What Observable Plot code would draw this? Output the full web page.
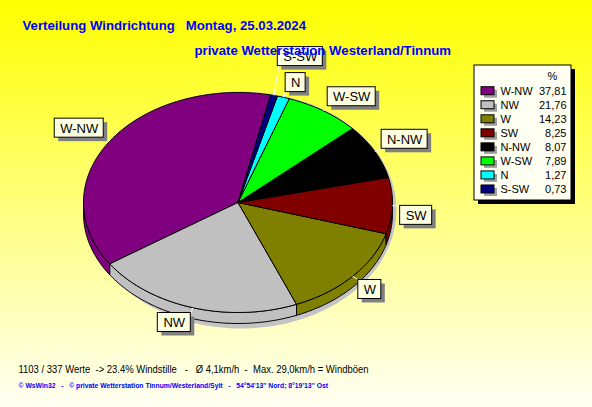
<!DOCTYPE html>
<html><head><meta charset="utf-8">
<script src="https://cdn.jsdelivr.net/npm/d3@7"></script>
<script src="https://cdn.jsdelivr.net/npm/@observablehq/plot@0.6"></script>
<style>
html,body{margin:0;padding:0;}
body{width:592px;height:407px;overflow:hidden;background:#ffff80;}
svg text{white-space:pre;}
</style></head><body>
<div id="chart"></div>
<script>
// ---- data ----
const directions = ["W-NW","NW","W","SW","N-NW","W-SW","N","S-SW"];
const percents = [37.81,21.76,14.23,8.25,8.07,7.89,1.27,0.73];
const percentLabels = ["37,81","21,76","14,23","8,25","8,07","7,89","1,27","0,73"];
const colors = ["#800080","#c0c0c0","#808000","#800000","#000000","#00ff00","#00ffff","#000080"];
const legendHeader = "%";
const titleText = "Verteilung Windrichtung   Montag, 25.03.2024";
const subtitleText = "private Wetterstation Westerland/Tinnum";
const statsText = "1103 / 337 Werte  -> 23.4% Windstille   -   Ø 4,1km/h  -  Max. 29,0km/h = Windböen";
const footerText = "© WsWin32   -   © private Wetterstation Tinnum/Westerland/Sylt   -   54°54'13'' Nord; 8°19'13'' Ost";

// ---- layout ----
const W = 592, H = 407;
const cx = 237.5, cy = 202, rx = 154.5, ry = 110, depth = 11;
const startDeg = 12.2;
const FONT = "Liberation Sans, Arial, sans-serif";
const rad = d => d * Math.PI / 180;
const P = (t, k = 1) => ({x: cx + k * rx * Math.sin(rad(t)), y: cy - k * ry * Math.cos(rad(t))});

const ctx = document.createElement("canvas").getContext("2d");
function measure(txt, font) { ctx.font = font; return ctx.measureText(txt).width; }

// slices
let cum = 0;
const slices = percents.map((p, i) => {
  const a0 = startDeg - cum * 3.6;
  cum += p;
  const a1 = startDeg - cum * 3.6;
  return {i, name: directions[i], color: colors[i], a0, a1};
});

const topPts = [];
for (const s of slices) {
  const span = s.a0 - s.a1;
  const n = Math.max(2, Math.ceil(span));
  topPts.push({id: s.i, color: s.color, x: cx, y: cy});
  for (let j = 0; j <= n; j++) { const q = P(s.a0 - span * j / n); topPts.push({id: s.i, color: s.color, ...q}); }
  topPts.push({id: s.i, color: s.color, x: cx, y: cy});
}

const sidePts = [];
for (const s of slices) {
  for (const k of [-1, 0]) {
    const lo = Math.max(s.a1, 90 + 360 * k), hi = Math.min(s.a0, 270 + 360 * k);
    if (hi <= lo) continue;
    const n = Math.max(2, Math.ceil(hi - lo));
    const id = s.i + "_" + k;
    const arc = [];
    for (let j = 0; j <= n; j++) arc.push(P(lo + (hi - lo) * j / n));
    arc.forEach(q => sidePts.push({id, color: s.color, x: q.x, y: q.y}));
    arc.slice().reverse().forEach(q => sidePts.push({id, color: s.color, x: q.x, y: q.y + depth}));
    sidePts.push({id, color: s.color, x: arc[0].x, y: arc[0].y});
  }
}

const shadowPts = d3.range(0, 361, 2).map(t => ({
  x: cx + 3 + (rx + 1) * Math.sin(rad(t)),
  y: cy + depth / 2 + 2 - (ry + depth / 2 + 3) * Math.cos(rad(t))
}));

// labels
const LFONT = "13px " + FONT;
const bh = 19;
const boxes = [];
for (const s of slices) {
  const mid = (s.a0 + s.a1) / 2;
  const E = P(mid, 1), A = P(mid, 1.05);
  const bw = Math.round(measure(s.name, LFONT) + 11);
  const right = Math.sin(rad(mid)) > 0, upper = Math.cos(rad(mid)) > 0;
  let x0 = right ? A.x : A.x - bw;
  let y0 = upper ? A.y - bh : A.y;
  let lx = A.x, ly = A.y;
  for (const b of boxes) {
    const ov = x0 < b.x0 + b.bw && x0 + bw > b.x0 && y0 < b.y0 + bh + 4 && y0 + bh > b.y0 - 4;
    if (ov) {
      if (upper) { y0 = b.y0 - 7 - bh; ly = y0 + bh; x0 += 2; lx = x0 + 1; }
      else { y0 = b.y0 + bh + 7; ly = y0; }
    }
  }
  boxes.push({name: s.name, x0, y0, bw, ex: E.x, ey: E.y, lx, ly});
}

// legend
const legX0 = 474, legY0 = 65, legX1 = 571, legY1 = 200;
const rowY0 = 90.7, rowStep = 14.04;
const legRows = directions.map((d, i) => ({name: d, val: percentLabels[i], color: colors[i], y: rowY0 + i * rowStep}));

const chart = Plot.plot({
  width: W, height: H,
  margin: 0,
  x: {domain: [0, W], range: [0, W], axis: null},
  y: {domain: [0, H], range: [0, H], axis: null},
  style: {background: "linear-gradient(#ffff00 0%, #ffff70 45%, #fffff4 100%)", fontFamily: FONT, overflow: "visible"},
  marks: [
    Plot.line(shadowPts, {x: "x", y: "y", fill: "#c4c4c4", stroke: "none", curve: "linear"}),
    Plot.line(sidePts, {x: "x", y: "y", z: "id", fill: "color", stroke: "black", strokeWidth: 1, curve: "linear"}),
    Plot.line(topPts, {x: "x", y: "y", z: "id", fill: "color", stroke: "black", strokeWidth: 1, curve: "linear"}),
    Plot.link(boxes, {x1: "ex", y1: "ey", x2: "lx", y2: "ly", stroke: "white", strokeWidth: 1}),
    Plot.rect(boxes, {x1: d => d.x0 + 4, x2: d => d.x0 + d.bw + 4, y1: d => d.y0 + 4, y2: d => d.y0 + bh + 4, fill: "#808080"}),
    Plot.rect(boxes, {x1: "x0", x2: d => d.x0 + d.bw, y1: "y0", y2: d => d.y0 + bh, fill: "#ffffe1", stroke: "black", strokeWidth: 1}),
    Plot.text(boxes, {x: d => d.x0 + d.bw / 2, y: d => d.y0 + bh / 2 + 0.5, text: "name", fontSize: 13, fill: "black"}),
    // legend
    Plot.rect([0], {x1: legX0 + 4, x2: legX1 + 4, y1: legY0 + 4, y2: legY1 + 4, fill: "black"}),
    Plot.rect([0], {x1: legX0, x2: legX1, y1: legY0, y2: legY1, fill: "#fffff2", stroke: "black", strokeWidth: 1}),
    Plot.text([legendHeader], {x: 552, y: 76, text: d => d, fontSize: 11, fill: "black"}),
    Plot.rect(legRows, {x1: 484, x2: 497, y1: d => d.y - 1, y2: d => d.y + 7, fill: "#a0a0a0"}),
    Plot.rect(legRows, {x1: 481, x2: 494, y1: d => d.y - 4, y2: d => d.y + 4, fill: "color", stroke: "black", strokeWidth: 1}),
    Plot.text(legRows, {x: 500, y: "y", text: "name", textAnchor: "start", fontSize: 11, fill: "black"}),
    Plot.text(legRows, {x: 566, y: "y", text: "val", textAnchor: "end", fontSize: 11, fill: "black"}),
    // titles
    Plot.text([titleText], {x: 22, y: 25, text: d => d, textAnchor: "start", fontSize: 13.2, fontWeight: "bold", fill: "#0000ff"}),
    Plot.text([subtitleText], {x: 194, y: 50, text: d => d, textAnchor: "start", fontSize: 13.2, fontWeight: "bold", fill: "#0000ff"}),
    Plot.text([statsText], {x: 18, y: 369, text: d => d, textAnchor: "start", fontSize: 10.4, fill: "black", textLength: 350, lengthAdjust: "spacingAndGlyphs"}),
    Plot.text([footerText], {x: 18, y: 385.5, text: d => d, textAnchor: "start", fontSize: 6.8, fontWeight: "bold", fill: "#0000ff"})
  ]
});
// fit the statistics line to the reference width
chart.querySelectorAll("text").forEach(t => {
  if (t.textContent === statsText) { t.setAttribute("textLength", 350); t.setAttribute("lengthAdjust", "spacingAndGlyphs"); }
});
document.getElementById("chart").appendChild(chart);
</script>
</body></html>
